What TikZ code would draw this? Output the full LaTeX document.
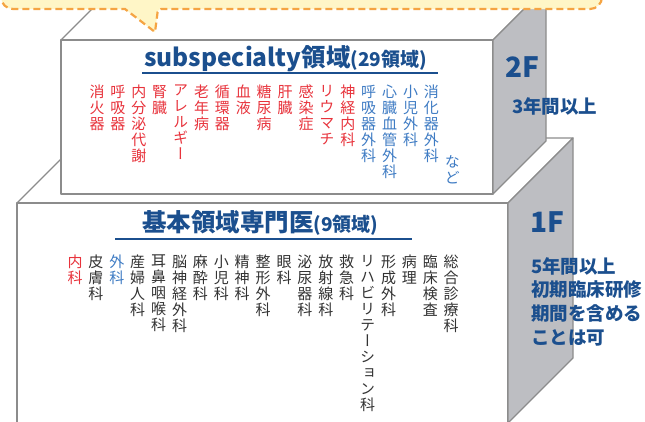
\documentclass[tikz,border=0pt]{standalone}
\usepackage{fontspec}
\newfontfamily\jp{Noto Sans CJK JP}
\newfontfamily\jpv{Noto Sans CJK JP}[RawFeature=+vert]
\definecolor{ttl}{HTML}{1B4F8E}
\definecolor{rd}{HTML}{E8333C}
\definecolor{bl}{HTML}{3F7CC4}
\definecolor{dk}{HTML}{333333}
\definecolor{edge}{HTML}{8C8C8C}
\definecolor{side}{HTML}{BDBEC2}
\definecolor{cfill}{HTML}{FFF6C7}
\definecolor{corange}{HTML}{F5A443}
\begin{document}
\begin{tikzpicture}[x=1pt,y=-1pt,
  face/.style={draw=edge,fill=white,line width=1.2pt,line join=round},
  sideface/.style={draw=edge,fill=side,line width=1.2pt,line join=round},
  callout/.style={draw=corange,fill=cfill,line width=2.2pt,dash pattern=on 7pt off 4pt},
  uline/.style={draw=ttl,line width=2pt},
  col/.style={anchor=north,inner sep=0pt,align=center,font=\jpv\fontsize{15}{16}\selectfont},
  colr/.style={col,text=rd},
  colb/.style={col,text=bl},
  cold/.style={col,text=dk},
  title/.style={anchor=base west,inner sep=0pt,text=ttl,font=\jp\bfseries},
  floor/.style={anchor=base west,inner sep=0pt,text=ttl,font=\jp\bfseries\fontsize{28}{28}\selectfont},
  note/.style={anchor=north west,inner sep=0pt,align=left,text=ttl,font=\jp\bfseries\fontsize{18.5}{23.8}\selectfont}
]
\useasboundingbox (0,0) rectangle (645,421);
\clip (0,0) rectangle (645,421);
% 1F box
\draw[face] (17,203) -- (508,203) -- (573,138) -- (82,138) -- cycle;
\draw[face] (17,203) rectangle (508,440);
\draw[sideface] (508,203) -- (573,138) -- (573,358) -- (508,423) -- cycle;
% 2F box
\draw[face] (61,40) -- (493,40) -- (546,-13) -- (114,-13) -- cycle;
\draw[face] (61,40) rectangle (493,194);
\draw[sideface] (493,40) -- (546,-13) -- (546,141) -- (493,194) -- cycle;
% callout
\draw[callout] (1,-30) [rounded corners=12] -- (1,9) [sharp corners] -- (125,9) -- (155,32) [rounded corners=3] -- (158,9) [rounded corners=12] -- (602,9) -- (602,-30) [sharp corners] -- cycle;
% titles
\node[title] (t2) at (144,66) {{\fontsize{24.5}{24.5}\selectfont subspecialty領域}{\fontsize{19}{19}\selectfont (29領域)}};
\draw[uline] (142,73) -- (438,73);
\node[title] (t1) at (142,231) {{\fontsize{24.5}{24.5}\selectfont 基本領域専門医}{\fontsize{19}{19}\selectfont (9領域)}};
\draw[uline] (115,239) -- (412,239);
% floor labels
\node[floor] (f2) at (505,77) {2F};
\node[note] (n2) at (512,97) {3年間以上};
\node[floor] (f1) at (530,232) {1F};
\node[note] (n1) at (531,257) {5年間以上\\初期臨床研修\\期間を含める\\ことは可};
% 2F columns
\node[colr] (s1) at (97,85) {消\\火\\器};
\node[colr] (s2) at (117.9,85) {呼\\吸\\器};
\node[colr] (s3) at (138.8,85) {内\\分\\泌\\代\\謝};
\node[colr] (s4) at (159.7,85) {腎\\臓};
\node[colr] (s5) at (180.6,85) {ア\\レ\\ル\\ギ\\ー};
\node[colr] (s6) at (201.5,85) {老\\年\\病};
\node[colr] (s7) at (222.4,85) {循\\環\\器};
\node[colr] (s8) at (243.3,85) {血\\液};
\node[colr] (s9) at (264.2,85) {糖\\尿\\病};
\node[colr] (s10) at (285.1,85) {肝\\臓};
\node[colr] (s11) at (306,85) {感\\染\\症};
\node[colr] (s12) at (326.9,85) {リ\\ウ\\マ\\チ};
\node[colr] (s13) at (347.8,85) {神\\経\\内\\科};
\node[colb] (s14) at (368.7,85) {呼\\吸\\器\\外\\科};
\node[colb] (s15) at (389.6,85) {心\\臓\\血\\管\\外\\科};
\node[colb] (s16) at (410.5,85) {小\\児\\外\\科};
\node[colb] (s17) at (431.4,85) {消\\化\\器\\外\\科};
\node[colb] (s18) at (452.3,155) {な\\ど};
% 1F columns
\node[colr] (b1) at (75,255) {内\\科};
\node[cold] (b2) at (95.9,255) {皮\\膚\\科};
\node[colb] (b3) at (116.8,255) {外\\科};
\node[cold] (b4) at (137.7,255) {産\\婦\\人\\科};
\node[cold] (b5) at (158.6,255) {耳\\鼻\\咽\\喉\\科};
\node[cold] (b6) at (179.5,255) {脳\\神\\経\\外\\科};
\node[cold] (b7) at (200.4,255) {麻\\酔\\科};
\node[cold] (b8) at (221.3,255) {小\\児\\科};
\node[cold] (b9) at (242.2,255) {精\\神\\科};
\node[cold] (b10) at (263.1,255) {整\\形\\外\\科};
\node[cold] (b11) at (284,255) {眼\\科};
\node[cold] (b12) at (304.9,255) {泌\\尿\\器\\科};
\node[cold] (b13) at (325.8,255) {放\\射\\線\\科};
\node[cold] (b14) at (346.7,255) {救\\急\\科};
\node[cold] (b15) at (367.6,255) {リ\\ハ\\ビ\\リ\\テ\\ー\\シ\\ョ\\ン\\科};
\node[cold] (b16) at (388.5,255) {形\\成\\外\\科};
\node[cold] (b17) at (409.4,255) {病\\理};
\node[cold] (b18) at (430.3,255) {臨\\床\\検\\査};
\node[cold] (b19) at (451.2,255) {総\\合\\診\\療\\科};
\end{tikzpicture}
\end{document}
